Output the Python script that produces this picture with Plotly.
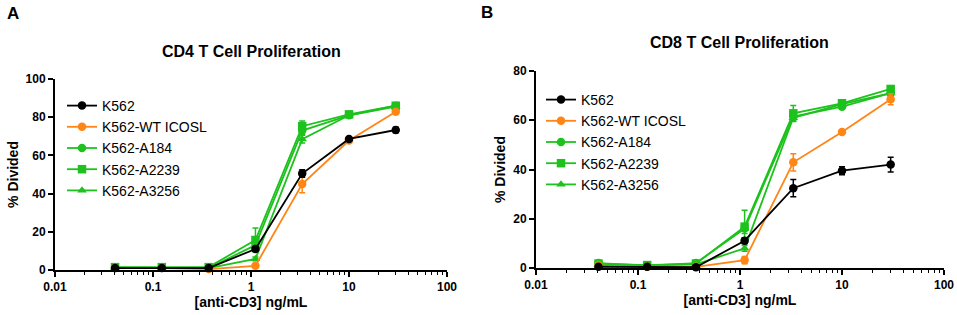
import plotly.graph_objects as go

# ---------------- data ----------------
doses = [0.041, 0.123, 0.37, 1.11, 3.33, 10, 30]
series_names = ["K562", "K562-WT ICOSL", "K562-A184", "K562-A2239", "K562-A3256"]

cd4_k562 = [1.0, 1.0, 1.0, 11.0, 50.5, 68.6, 73.3]
cd4_k562_err = [0.5, 0.5, 0.5, 1.0, 2.0, 1.2, 1.5]
cd4_wt = [1.0, 1.0, 0.5, 2.2, 45.0, 67.8, 82.8]
cd4_wt_err = [0.4, 0.4, 0.4, 0.8, 4.5, 1.0, 1.0]
cd4_a184 = [1.2, 1.2, 1.0, 13.0, 73.0, 81.0, 86.0]
cd4_a184_err = [0.4, 0.4, 0.4, 2.0, 2.0, 1.0, 1.0]
cd4_a2239 = [1.5, 1.5, 1.5, 15.7, 75.3, 81.5, 86.0]
cd4_a2239_err = [0.4, 0.4, 0.4, 6.3, 2.7, 1.0, 1.0]
cd4_a3256 = [1.0, 1.0, 1.0, 5.8, 68.5, 81.0, 85.5]
cd4_a3256_err = [0.4, 0.4, 0.4, 1.0, 2.0, 1.0, 1.0]

cd8_k562 = [0.5, 0.5, 0.3, 11.1, 32.4, 39.5, 42.0]
cd8_k562_err = [0.3, 0.3, 0.3, 1.2, 3.5, 1.6, 3.0]
cd8_wt = [1.0, 0.5, 0.5, 3.2, 42.9, 55.2, 68.5]
cd8_wt_err = [0.3, 0.3, 0.3, 1.5, 3.5, 0.8, 2.2]
cd8_a184 = [2.0, 1.0, 2.0, 16.0, 61.5, 65.5, 71.0]
cd8_a184_err = [0.4, 0.4, 0.4, 2.0, 1.5, 1.0, 1.0]
cd8_a2239 = [1.8, 1.2, 1.8, 16.8, 62.8, 66.9, 72.7]
cd8_a2239_err = [0.4, 0.4, 0.4, 6.7, 3.2, 1.0, 1.0]
cd8_a3256 = [1.5, 1.0, 1.5, 8.0, 61.0, 66.5, 71.0]
cd8_a3256_err = [0.4, 0.4, 0.4, 1.2, 1.5, 1.0, 1.0]

titles = ["CD4 T Cell Proliferation", "CD8 T Cell Proliferation"]
x_title = "[anti-CD3] ng/mL"
y_title = "% Divided"

# ---------------- styles ----------------
BLACK = "#000000"
ORANGE = "#FF8515"
GREEN = "#1DC21D"
colors = [BLACK, ORANGE, GREEN, GREEN, GREEN]
symbols = ["circle", "circle", "circle", "square", "triangle-up"]
FONT = "Liberation Sans, Arial, sans-serif"

panels = [
    ([cd4_k562, cd4_wt, cd4_a184, cd4_a2239, cd4_a3256],
     [cd4_k562_err, cd4_wt_err, cd4_a184_err, cd4_a2239_err, cd4_a3256_err]),
    ([cd8_k562, cd8_wt, cd8_a184, cd8_a2239, cd8_a3256],
     [cd8_k562_err, cd8_wt_err, cd8_a184_err, cd8_a2239_err, cd8_a3256_err]),
]

fig = go.Figure()
draw_order = [4, 3, 2, 1, 0]
for p, (vals, errs) in enumerate(panels):
    xa = "x" if p == 0 else "x2"
    ya = "y" if p == 0 else "y2"
    lg = "legend" if p == 0 else "legend2"
    for i in draw_order:
        fig.add_trace(go.Scatter(
            x=doses, y=vals[i], name=series_names[i],
            mode="lines+markers",
            line=dict(color=colors[i], width=1.8),
            marker=dict(color=colors[i], symbol=symbols[i], size=8.5),
            error_y=dict(type="data", array=errs[i], color=colors[i],
                         thickness=1.5, width=3),
            xaxis=xa, yaxis=ya, legend=lg, legendrank=i + 1,
            cliponaxis=False,
        ))

W, H = 957, 315
def px_x(v):
    return v / W
def px_y(v):
    return 1 - v / H

axis_common = dict(
    showline=True, linecolor="black", linewidth=2,
    ticks="outside", ticklen=5, tickwidth=1.5, tickcolor="black",
    showgrid=False, zeroline=False, automargin=False,
    tickfont=dict(family=FONT, size=12, color="black", weight="bold"),
)

xaxis_common = dict(axis_common, type="log", range=[-2, 2], dtick=1,
                    minor=dict(ticks="outside", ticklen=3, tickwidth=1.2,
                               tickcolor="black", dtick="D1", showgrid=False),
                    title=dict(text=x_title, standoff=4,
                               font=dict(family=FONT, size=14, color="black", weight="bold")))

def ann(text, x, y, size):
    return dict(text=text, x=px_x(x), y=px_y(y), xref="paper", yref="paper",
                xanchor="center", yanchor="middle", showarrow=False,
                font=dict(family=FONT, size=size, color="black", weight="bold"))

fig.update_layout(
    width=W, height=H,
    margin=dict(l=0, r=0, t=0, b=0, autoexpand=False),
    paper_bgcolor="white", plot_bgcolor="white",
    showlegend=True,
    xaxis=dict(xaxis_common, domain=[px_x(55), px_x(447)], anchor="y"),
    yaxis=dict(axis_common, range=[0, 100], dtick=20, domain=[px_y(270), px_y(79)], anchor="x",
               title=dict(text=y_title, standoff=4,
                          font=dict(family=FONT, size=14, color="black", weight="bold"))),
    xaxis2=dict(xaxis_common, domain=[px_x(536), px_x(944)], anchor="y2"),
    yaxis2=dict(axis_common, range=[0, 80], dtick=20, domain=[px_y(268), px_y(71)], anchor="x2",
                title=dict(text=y_title, standoff=4,
                           font=dict(family=FONT, size=14, color="black", weight="bold"))),
    legend=dict(x=px_x(62), y=px_y(90), xanchor="left", yanchor="top",
                bgcolor="rgba(0,0,0,0)", font=dict(family=FONT, size=14, color="black"),
                traceorder="normal"),
    legend2=dict(x=px_x(541), y=px_y(84), xanchor="left", yanchor="top",
                 bgcolor="rgba(0,0,0,0)", font=dict(family=FONT, size=14, color="black"),
                 traceorder="normal"),
    annotations=[
        ann(titles[0], 251, 52, 16),
        ann(titles[1], 739, 43, 16),
        ann("A", 13, 14, 17),
        ann("B", 487, 13, 17),
    ],
)

fig.write_html("out.html",
               config={"displayModeBar": False},
               post_script="document.body.style.margin='0';document.body.style.overflow='hidden';")
